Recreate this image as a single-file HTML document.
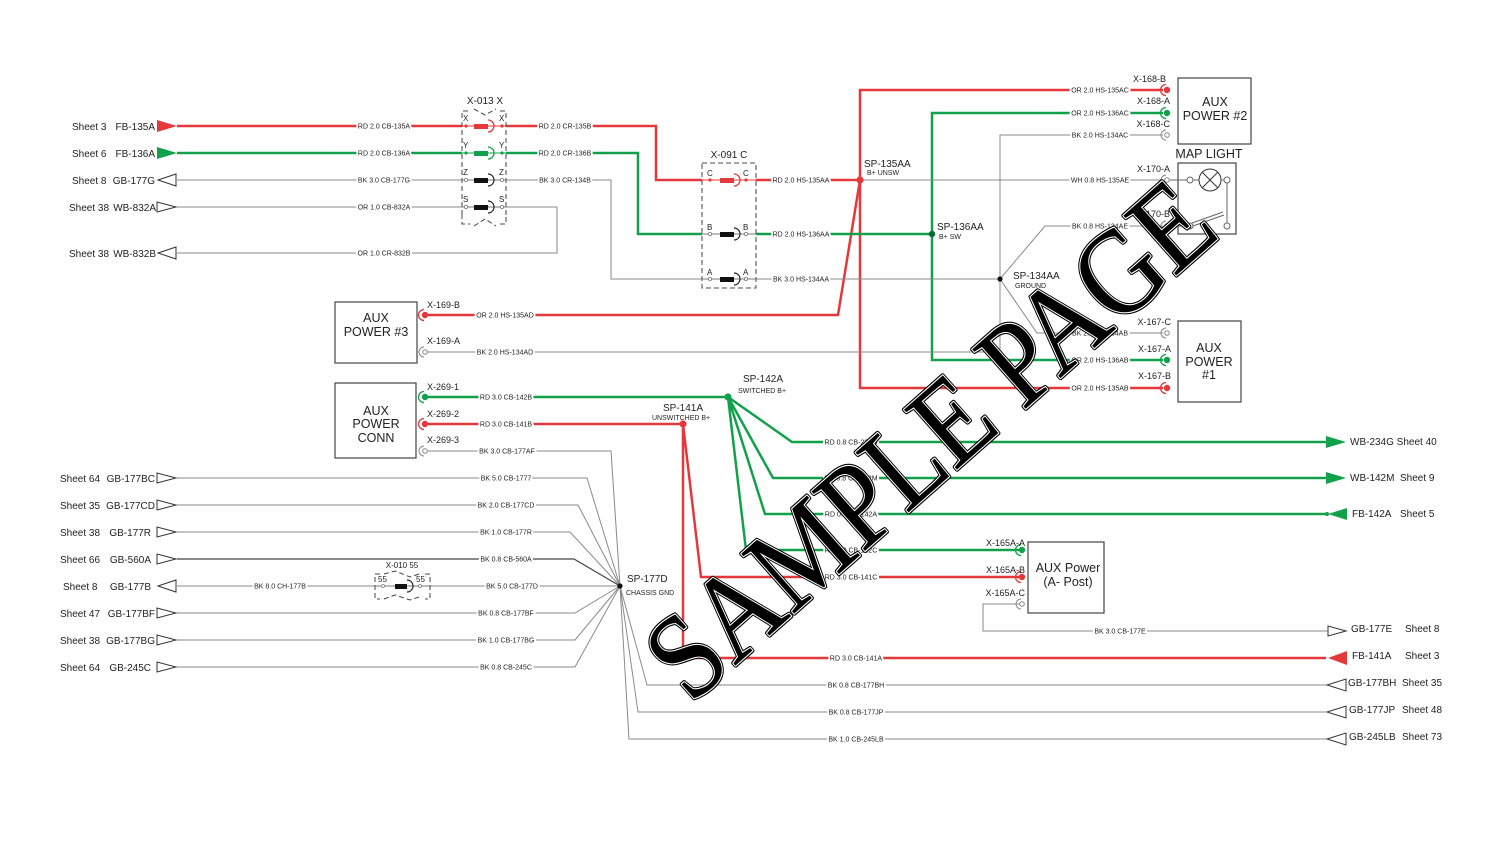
<!DOCTYPE html>
<html><head><meta charset="utf-8"><style>
html,body{margin:0;padding:0;background:#fff;}
svg{display:block;}
text{font-family:"Liberation Sans",Arial,sans-serif;fill:#222;}
.wl{font-size:7px;text-anchor:middle;paint-order:stroke;stroke:#fff;stroke-width:4px;stroke-linejoin:round;fill:#333;}
.lb{font-size:10px;}
.xl{font-size:9px;text-anchor:end;}
.sp{font-size:10px;}
.ss{font-size:7px;}
.bx{font-size:12.5px;text-anchor:middle;}
.pn{font-size:8px;}
.r{stroke:#e5383b;stroke-width:2.5;fill:none;}
.g{stroke:#12a14b;stroke-width:2.5;fill:none;}
.k{stroke:#8a8a8a;stroke-width:1;fill:none;}
.d{stroke:#444;stroke-width:1;fill:none;stroke-dasharray:5,3;}
.box{stroke:#444;stroke-width:1.2;fill:#fff;}
.wm{font-family:'Liberation Serif',serif;font-size:122px;}
</style></head><body>
<svg width="1500" height="853" viewBox="0 0 1500 853" xmlns="http://www.w3.org/2000/svg">
<defs>
<g id="cr"><path d="M-1,-5.5 A5.5,5.5 0 0 0 -1,5.5" fill="none" stroke="#e5383b" stroke-width="1.3"/><circle r="3.2" fill="#e5383b"/></g>
<g id="cg"><path d="M-1,-5.5 A5.5,5.5 0 0 0 -1,5.5" fill="none" stroke="#12a14b" stroke-width="1.3"/><circle r="3.2" fill="#12a14b"/></g>
<g id="ck"><path d="M-1,-5 A5,5 0 0 0 -1,5" fill="none" stroke="#888" stroke-width="1"/><circle r="2.3" fill="#fff" stroke="#888" stroke-width="1"/></g>
</defs>

<!-- ===== RED WIRES ===== -->
<path class="r" d="M177,126 H462 M506,126 H656 V180 H702 M756,180 H860"/>
<path class="r" d="M1163,90 H860 V388 H1163"/>
<path class="r" d="M860,180 L838,315 H425"/>
<path class="r" d="M425,424 H683 V658 H1326 M683,424 L701,577 H1022"/>

<!-- ===== GREEN WIRES ===== -->
<path class="g" d="M177,153 H462 M506,153 H638 V234 H702 M756,234 H932"/>
<path class="g" d="M1163,113 H932 V360 H1163"/>
<path class="g" d="M425,397 H728 M728,397 L792,442 H1326 M728,397 L773,478 H1326 M728,397 L765,514 H1326 M728,397 L746,550 H1022"/>

<!-- ===== GRAY WIRES ===== -->
<path class="k" d="M177,180 H462 M506,180 H611 V279 H702 M756,279 H1000"/>
<path class="k" d="M177,207 H462 M506,207 H557 V253 H177"/>
<path class="k" d="M860,180 H1163"/>
<path class="k" d="M1163,135 H1000 V352 H425"/>
<path class="k" d="M1000,279 L1045,226 H1163 M1000,279 L1037,333 H1163"/>
<path class="k" d="M425,451 H611 L620,586"/>
<path class="k" d="M177,478 H587 L620,586 M177,505 H578 L620,586 M177,532 H570 L620,586"/>
<path d="M177,559 H574 L620,586" stroke="#444" stroke-width="1.2" fill="none"/>
<path class="k" d="M177,586 H375 M430,586 H620"/>
<path class="k" d="M177,613 H575 L620,586 M177,640 H575 L620,586 M177,667 H575 L620,586"/>
<path class="k" d="M620,586 L647,685 H1326 M620,586 L638,712 H1326 M620,586 L629,739 H1326"/>
<path class="k" d="M1022,604 H983 V631 H1328"/>

<!-- ===== SPLICE DOTS ===== -->
<circle cx="860" cy="180" r="3.6" fill="#e5383b"/>
<circle cx="932" cy="234" r="3.2" fill="#0a6a30"/>
<circle cx="1000" cy="279" r="2.6" fill="#111"/>
<circle cx="728" cy="397" r="3.6" fill="#12a14b"/>
<circle cx="683" cy="424" r="3.6" fill="#e5383b"/>
<circle cx="620" cy="586" r="2.6" fill="#111"/>

<!-- ===== LEFT ARROWS ===== -->
<polygon points="157,120 157,132 177,126" fill="#e5383b"/>
<polygon points="157,147 157,159 177,153" fill="#12a14b"/>
<polygon points="158,180 176,174 176,186" fill="#fff" stroke="#333" stroke-width="1"/>
<polygon points="157,202 157,212 176,207" fill="#fff" stroke="#333" stroke-width="1"/>
<polygon points="158,253 176,247 176,259" fill="#fff" stroke="#333" stroke-width="1"/>
<polygon points="157,473 157,483 176,478" fill="#fff" stroke="#333" stroke-width="1"/>
<polygon points="157,500 157,510 176,505" fill="#fff" stroke="#333" stroke-width="1"/>
<polygon points="157,527 157,537 176,532" fill="#fff" stroke="#333" stroke-width="1"/>
<polygon points="157,554 157,564 176,559" fill="#fff" stroke="#333" stroke-width="1"/>
<polygon points="158,586 176,580 176,592" fill="#fff" stroke="#333" stroke-width="1"/>
<polygon points="157,608 157,618 176,613" fill="#fff" stroke="#333" stroke-width="1"/>
<polygon points="157,635 157,645 176,640" fill="#fff" stroke="#333" stroke-width="1"/>
<polygon points="157,662 157,672 176,667" fill="#fff" stroke="#333" stroke-width="1"/>

<!-- ===== RIGHT ARROWS ===== -->
<polygon points="1326,436 1326,448 1346,442" fill="#12a14b"/>
<polygon points="1326,472 1326,484 1346,478" fill="#12a14b"/>
<polygon points="1328,514 1347,508 1347,520" fill="#12a14b"/>
<circle cx="1327" cy="514" r="2" fill="#12a14b"/>
<polygon points="1328,626 1328,636 1346,631" fill="#fff" stroke="#333" stroke-width="1"/>
<polygon points="1328,658 1347,651 1347,665" fill="#e5383b"/>
<polygon points="1327,685 1346,679 1346,691" fill="#fff" stroke="#333" stroke-width="1"/>
<polygon points="1327,712 1346,706 1346,718" fill="#fff" stroke="#333" stroke-width="1"/>
<polygon points="1327,739 1346,733 1346,745" fill="#fff" stroke="#333" stroke-width="1"/>

<!-- ===== X-013 X CONNECTOR ===== -->
<path class="d" d="M462,118 V111 H470 M474,109 L485,115 L496,109 M500,111 H506 V118"/>
<path class="d" d="M462,122 V216 M506,122 V216"/>
<path class="d" d="M462,214 V224 H470 M474,226 L485,219 L496,226 M500,224 H506 V214"/>
<text x="485" y="104" class="sp" text-anchor="middle">X-013 X</text>
<g>
<line x1="462" y1="126" x2="506" y2="126" stroke="#e5383b" stroke-width="1"/>
<rect x="474" y="124" width="14" height="5" fill="#e5383b"/>
<path d="M488,120 A6,6 0 0 1 488,132" fill="none" stroke="#e5383b" stroke-width="1.3"/>
<circle cx="466" cy="126" r="1.6" fill="#e5383b"/><circle cx="502" cy="126" r="1.6" fill="#e5383b"/>
<text x="463" y="121" class="pn">X</text><text x="499" y="121" class="pn">X</text>

<line x1="462" y1="153" x2="506" y2="153" stroke="#12a14b" stroke-width="1"/>
<rect x="474" y="151" width="14" height="5" fill="#12a14b"/>
<path d="M488,147 A6,6 0 0 1 488,159" fill="none" stroke="#12a14b" stroke-width="1.3"/>
<circle cx="466" cy="153" r="1.6" fill="#12a14b"/><circle cx="502" cy="153" r="1.6" fill="#12a14b"/>
<text x="463" y="148" class="pn">Y</text><text x="499" y="148" class="pn">Y</text>

<line x1="462" y1="180" x2="506" y2="180" stroke="#777" stroke-width="1"/>
<rect x="474" y="178" width="14" height="5" fill="#111"/>
<path d="M488,174 A6,6 0 0 1 488,186" fill="none" stroke="#222" stroke-width="1.2"/>
<circle cx="466" cy="180" r="1.6" fill="#fff" stroke="#777" stroke-width="0.8"/><circle cx="502" cy="180" r="1.6" fill="#fff" stroke="#777" stroke-width="0.8"/>
<text x="463" y="175" class="pn">Z</text><text x="499" y="175" class="pn">Z</text>

<line x1="462" y1="207" x2="506" y2="207" stroke="#777" stroke-width="1"/>
<rect x="474" y="205" width="14" height="5" fill="#111"/>
<path d="M488,201 A6,6 0 0 1 488,213" fill="none" stroke="#222" stroke-width="1.2"/>
<circle cx="466" cy="207" r="1.6" fill="#fff" stroke="#777" stroke-width="0.8"/><circle cx="502" cy="207" r="1.6" fill="#fff" stroke="#777" stroke-width="0.8"/>
<text x="463" y="202" class="pn">S</text><text x="499" y="202" class="pn">S</text>
</g>

<!-- ===== X-091 C CONNECTOR ===== -->
<rect x="702" y="163" width="54" height="125" class="d"/>
<text x="729" y="158" class="sp" text-anchor="middle">X-091 C</text>
<line x1="702" y1="180" x2="756" y2="180" stroke="#e5383b" stroke-width="1"/>
<rect x="720" y="178" width="14" height="5" fill="#e5383b"/>
<path d="M734,174 A6,6 0 0 1 734,186" fill="none" stroke="#e5383b" stroke-width="1.3"/>
<circle cx="710" cy="180" r="1.6" fill="#e5383b"/><circle cx="746" cy="180" r="1.6" fill="#e5383b"/>
<text x="707" y="176" class="pn">C</text><text x="743" y="176" class="pn">C</text>

<line x1="702" y1="234" x2="756" y2="234" stroke="#777" stroke-width="1"/>
<rect x="720" y="232" width="14" height="5" fill="#111"/>
<path d="M734,228 A6,6 0 0 1 734,240" fill="none" stroke="#222" stroke-width="1.2"/>
<circle cx="710" cy="234" r="1.6" fill="#fff" stroke="#777" stroke-width="0.8"/><circle cx="746" cy="234" r="1.6" fill="#fff" stroke="#777" stroke-width="0.8"/>
<text x="707" y="230" class="pn">B</text><text x="743" y="230" class="pn">B</text>

<line x1="702" y1="279" x2="756" y2="279" stroke="#777" stroke-width="1"/>
<rect x="720" y="277" width="14" height="5" fill="#111"/>
<path d="M734,273 A6,6 0 0 1 734,285" fill="none" stroke="#222" stroke-width="1.2"/>
<circle cx="710" cy="279" r="1.6" fill="#fff" stroke="#777" stroke-width="0.8"/><circle cx="746" cy="279" r="1.6" fill="#fff" stroke="#777" stroke-width="0.8"/>
<text x="707" y="275" class="pn">A</text><text x="743" y="275" class="pn">A</text>

<!-- ===== X-010 55 CONNECTOR ===== -->
<path class="d" d="M380,574 H375 V599 H380 M425,574 H430 V599 H425 M384,574 L395,571 L410,577 L422,573 M384,599 L395,595 L410,600 L422,596"/>
<text x="402" y="568" font-size="8" text-anchor="middle">X-010 55</text>
<line x1="375" y1="586" x2="430" y2="586" stroke="#777" stroke-width="1"/>
<rect x="395" y="584" width="12" height="5" fill="#111"/>
<path d="M407,580 A6,6 0 0 1 407,592" fill="none" stroke="#222" stroke-width="1.2"/>
<circle cx="383" cy="586" r="1.5" fill="#fff" stroke="#777" stroke-width="0.8"/><circle cx="420" cy="586" r="1.5" fill="#fff" stroke="#777" stroke-width="0.8"/>
<text x="378" y="582" class="pn">55</text><text x="416" y="582" class="pn">55</text>

<!-- ===== BOXES ===== -->
<rect x="1178" y="78" width="73" height="66" class="box"/>
<text x="1215" y="106" class="bx">AUX</text>
<text x="1215" y="120" class="bx">POWER #2</text>

<text x="1209" y="158" class="bx">MAP LIGHT</text>
<rect x="1178" y="163" width="58" height="71" class="box" stroke="#555"/>
<g stroke="#666" stroke-width="1" fill="#fff">
<line x1="1170" y1="180" x2="1187" y2="180"/>
<circle cx="1190" cy="180" r="3"/>
<line x1="1193" y1="180" x2="1199" y2="180"/>
<circle cx="1210" cy="180" r="11" stroke="#333"/>
<line x1="1202.5" y1="172.5" x2="1217.5" y2="187.5" stroke="#333"/>
<line x1="1217.5" y1="172.5" x2="1202.5" y2="187.5" stroke="#333"/>
<line x1="1221" y1="180" x2="1224" y2="180"/>
<circle cx="1227" cy="180" r="3"/>
<line x1="1227" y1="183" x2="1227" y2="223"/>
<circle cx="1227" cy="226" r="3"/>
<line x1="1170" y1="226" x2="1187" y2="226"/>
<circle cx="1190" cy="226" r="3"/>
<path d="M1192,223 L1223,212 M1193,226 L1224,215" fill="none"/>
</g>

<rect x="1178" y="321" width="63" height="81" class="box"/>
<text x="1209" y="352" class="bx">AUX</text>
<text x="1209" y="366" class="bx">POWER</text>
<text x="1209" y="379" class="bx">#1</text>

<rect x="335" y="302" width="82" height="61" class="box"/>
<text x="376" y="322" class="bx">AUX</text>
<text x="376" y="336" class="bx">POWER #3</text>

<rect x="335" y="383" width="81" height="75" class="box"/>
<text x="376" y="415" class="bx">AUX</text>
<text x="376" y="428" class="bx">POWER</text>
<text x="376" y="442" class="bx">CONN</text>

<rect x="1028" y="542" width="76" height="71" class="box"/>
<text x="1068" y="572" class="bx">AUX Power</text>
<text x="1068" y="586" class="bx">(A- Post)</text>

<!-- ===== CONNECTOR SYMBOLS ===== -->
<use href="#cr" x="1167" y="90"/>
<use href="#cg" x="1167" y="113"/>
<use href="#ck" x="1167" y="135"/>
<use href="#ck" x="1167" y="180"/>
<use href="#ck" x="1167" y="226"/>
<use href="#ck" x="1167" y="333"/>
<use href="#cg" x="1167" y="360"/>
<use href="#cr" x="1167" y="388"/>
<use href="#cr" x="425" y="315"/>
<use href="#ck" x="425" y="352"/>
<use href="#cg" x="425" y="397"/>
<use href="#cr" x="425" y="424"/>
<use href="#ck" x="425" y="451"/>
<use href="#cg" x="1022" y="550"/>
<use href="#cr" x="1022" y="577"/>
<use href="#ck" x="1022" y="604"/>

<!-- ===== CONNECTOR LABELS ===== -->
<text x="1166" y="82" class="xl">X-168-B</text>
<text x="1170" y="104" class="xl">X-168-A</text>
<text x="1170" y="127" class="xl">X-168-C</text>
<text x="1170" y="172" class="xl">X-170-A</text>
<text x="1170" y="217" class="xl">X-170-B</text>
<text x="1171" y="325" class="xl">X-167-C</text>
<text x="1171" y="352" class="xl">X-167-A</text>
<text x="1171" y="379" class="xl">X-167-B</text>
<text x="427" y="308" font-size="9">X-169-B</text>
<text x="427" y="344" font-size="9">X-169-A</text>
<text x="427" y="390" font-size="9">X-269-1</text>
<text x="427" y="417" font-size="9">X-269-2</text>
<text x="427" y="443" font-size="9">X-269-3</text>
<text x="1025" y="546" class="xl">X-165A-A</text>
<text x="1025" y="573" class="xl">X-165A-B</text>
<text x="1025" y="596" class="xl">X-165A-C</text>

<!-- ===== SPLICE LABELS ===== -->
<text x="864" y="167" class="sp">SP-135AA</text>
<text x="867" y="175" class="ss">B+ UNSW</text>
<text x="937" y="230" class="sp">SP-136AA</text>
<text x="939" y="239" class="ss">B+ SW</text>
<text x="1013" y="279" class="sp">SP-134AA</text>
<text x="1015" y="288" class="ss">GROUND</text>
<text x="743" y="382" class="sp">SP-142A</text>
<text x="738" y="393" class="ss">SWITCHED B+</text>
<text x="663" y="411" class="sp">SP-141A</text>
<text x="652" y="420" class="ss">UNSWITCHED B+</text>
<text x="627" y="582" class="sp">SP-177D</text>
<text x="626" y="595" class="ss">CHASSIS GND</text>

<!-- ===== WIRE LABELS ===== -->
<g class="wl">
<text x="384" y="128.5">RD 2.0 CB-135A</text>
<text x="384" y="155.5">RD 2.0 CB-136A</text>
<text x="384" y="182.5">BK 3.0 CB-177G</text>
<text x="384" y="209.5">OR 1.0 CB-832A</text>
<text x="384" y="255.5">OR 1.0 CR-832B</text>
<text x="565" y="128.5">RD 2.0 CR-135B</text>
<text x="565" y="155.5">RD 2.0 CR-136B</text>
<text x="565" y="182.5">BK 3.0 CR-134B</text>
<text x="801" y="182.5">RD 2.0 HS-135AA</text>
<text x="801" y="236.5">RD 2.0 HS-136AA</text>
<text x="801" y="281.5">BK 3.0 HS-134AA</text>
<text x="1100" y="92.5">OR 2.0 HS-135AC</text>
<text x="1100" y="115.5">OR 2.0 HS-136AC</text>
<text x="1100" y="137.5">BK 2.0 HS-134AC</text>
<text x="1100" y="182.5">WH 0.8 HS-135AE</text>
<text x="1100" y="228.5">BK 0.8 HS-134AE</text>
<text x="1100" y="335.5">BK 2.0 HS-134AB</text>
<text x="1100" y="362.5">OR 2.0 HS-136AB</text>
<text x="1100" y="390.5">OR 2.0 HS-135AB</text>
<text x="505" y="317.5">OR 2.0 HS-135AD</text>
<text x="505" y="354.5">BK 2.0 HS-134AD</text>
<text x="506" y="399.5">RD 3.0 CB-142B</text>
<text x="506" y="426.5">RD 3.0 CB-141B</text>
<text x="507" y="453.5">BK 3.0 CB-177AF</text>
<text x="506" y="480.5">BK 5.0 CB-1777</text>
<text x="506" y="507.5">BK 2.0 CB-177CD</text>
<text x="506" y="534.5">BK 1.0 CB-177R</text>
<text x="506" y="561.5">BK 0.8 CB-560A</text>
<text x="280" y="588.5">BK 8.0 CH-177B</text>
<text x="512" y="588.5">BK 5.0 CB-177D</text>
<text x="506" y="615.5">BK 0.8 CB-177BF</text>
<text x="506" y="642.5">BK 1.0 CB-177BG</text>
<text x="506" y="669.5">BK 0.8 CB-245C</text>
<text x="851" y="444.5">RD 0.8 CB-234G</text>
<text x="851" y="480.5">RD 0.8 CB-142M</text>
<text x="851" y="516.5">RD 0.8 CB-142A</text>
<text x="851" y="552.5">RD 3.0 CB-142C</text>
<text x="851" y="579.5">RD 3.0 CB-141C</text>
<text x="856" y="660.5">RD 3.0 CB-141A</text>
<text x="856" y="687.5">BK 0.8 CB-177BH</text>
<text x="856" y="714.5">BK 0.8 CB-177JP</text>
<text x="856" y="741.5">BK 1.0 CB-245LB</text>
<text x="1120" y="633.5">BK 3.0 CB-177E</text>
</g>

<!-- ===== LEFT SHEET LABELS ===== -->
<g class="lb">
<text x="72" y="130">Sheet 3</text><text x="155" y="130" text-anchor="end">FB-135A</text>
<text x="72" y="157">Sheet 6</text><text x="155" y="157" text-anchor="end">FB-136A</text>
<text x="72" y="184">Sheet 8</text><text x="155" y="184" text-anchor="end">GB-177G</text>
<text x="69" y="211">Sheet 38</text><text x="156" y="211" text-anchor="end">WB-832A</text>
<text x="69" y="257">Sheet 38</text><text x="156" y="257" text-anchor="end">WB-832B</text>
<text x="60" y="482">Sheet 64</text><text x="155" y="482" text-anchor="end">GB-177BC</text>
<text x="60" y="509">Sheet 35</text><text x="155" y="509" text-anchor="end">GB-177CD</text>
<text x="60" y="536">Sheet 38</text><text x="151" y="536" text-anchor="end">GB-177R</text>
<text x="60" y="563">Sheet 66</text><text x="151" y="563" text-anchor="end">GB-560A</text>
<text x="63" y="590">Sheet 8</text><text x="151" y="590" text-anchor="end">GB-177B</text>
<text x="60" y="617">Sheet 47</text><text x="155" y="617" text-anchor="end">GB-177BF</text>
<text x="60" y="644">Sheet 38</text><text x="155" y="644" text-anchor="end">GB-177BG</text>
<text x="60" y="671">Sheet 64</text><text x="151" y="671" text-anchor="end">GB-245C</text>
</g>

<!-- ===== RIGHT SHEET LABELS ===== -->
<g class="lb">
<text x="1350" y="445">WB-234G Sheet 40</text>
<text x="1350" y="481">WB-142M</text><text x="1400" y="481">Sheet 9</text>
<text x="1352" y="517">FB-142A</text><text x="1400" y="517">Sheet 5</text>
<text x="1351" y="632">GB-177E</text><text x="1405" y="632">Sheet 8</text>
<text x="1352" y="659">FB-141A</text><text x="1405" y="659">Sheet 3</text>
<text x="1348" y="686">GB-177BH</text><text x="1402" y="686">Sheet 35</text>
<text x="1349" y="713">GB-177JP</text><text x="1402" y="713">Sheet 48</text>
<text x="1349" y="740">GB-245LB</text><text x="1402" y="740">Sheet 73</text>
</g>

<!-- ===== WATERMARK ===== -->
<g transform="translate(930,440) rotate(-41.5)">
<text x="0" y="40" text-anchor="middle" class="wm" style="fill:#000;stroke:#000;stroke-width:4.5;stroke-linejoin:round" textLength="710" lengthAdjust="spacingAndGlyphs">SAMPLE PAGE</text>
<text x="0" y="40" text-anchor="middle" class="wm" style="fill:none;stroke:#fff;stroke-width:2.2;stroke-linejoin:round" textLength="710" lengthAdjust="spacingAndGlyphs">SAMPLE PAGE</text>
<text x="0" y="40" text-anchor="middle" class="wm" style="fill:#000;stroke:none" textLength="710" lengthAdjust="spacingAndGlyphs">SAMPLE PAGE</text>
</g>
</svg>
</body></html>
